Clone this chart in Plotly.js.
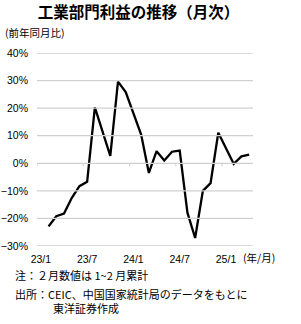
<!DOCTYPE html>
<html>
<head>
<meta charset="utf-8">
<script src="https://cdn.plot.ly/plotly-3.0.1.min.js"></script>
<style>
  html, body { margin: 0; padding: 0; background: #fff; }
  #chart { width: 301px; height: 324px; }
</style>
</head>
<body>
<div id="chart"></div>
<script>
// Categories (year/month); Jan values are not published (Feb = Jan–Feb cumulative)
const months = [
  '23/1','23/2','23/3','23/4','23/5','23/6','23/7','23/8','23/9','23/10','23/11','23/12',
  '24/1','24/2','24/3','24/4','24/5','24/6','24/7','24/8','24/9','24/10','24/11','24/12',
  '25/1','25/2','25/3','25/4'
];
// Industrial profit, YoY %
const profitYoY = [
  null, -22.9, -19.2, -18.2, -12.6, -8.3, -6.7, 20.3, 11.5, 2.7, 29.6, 25.8,
  null, 10.4, -3.5, 4.4, 1.0, 4.2, 4.6, -17.9, -27.1, -10.0, -7.2, 11.1,
  null, -0.2, 2.5, 3.1
];
const tickLabels = ['23/1','23/7','24/1','24/7','25/1'];
const yTicks = [-30, -20, -10, 0, 10, 20, 30, 40];

const numFont = 'Liberation Sans, Arial, Noto Sans CJK JP, sans-serif';
const jpFont = 'Noto Sans CJK JP, sans-serif';
const gridColor = '#d0d0d0';

// horizontal grid lines across the full plot width, one per y tick (on a hidden 0..1 x axis)
const gridX = [], gridY = [];
yTicks.forEach(v => { gridX.push(0, 1, null); gridY.push(v, v, null); });
// short tick marks under the 0% line at the boundary before each labelled month
const nCat = months.length;
const zx = [], zy = [];
tickLabels.forEach(lbl => {
  const f = months.indexOf(lbl) / nCat;
  zx.push(f, f, null); zy.push(0, -1.1, null);
});

const traces = [
  {
    x: gridX, y: gridY, xaxis: 'x2', type: 'scatter', mode: 'lines',
    line: { color: gridColor, width: 1.3 }, hoverinfo: 'skip', showlegend: false
  },
  {
    x: zx, y: zy, xaxis: 'x2', type: 'scatter', mode: 'lines',
    line: { color: gridColor, width: 1 }, hoverinfo: 'skip', showlegend: false
  },
  {
    x: months, y: profitYoY, type: 'scatter', mode: 'lines',
    connectgaps: true,
    line: { color: '#000000', width: 2.3 },
    hoverinfo: 'skip', showlegend: false
  }
];

const layout = {
  width: 301, height: 324,
  margin: { l: 37, r: 48, t: 53, b: 78 },
  paper_bgcolor: '#ffffff', plot_bgcolor: '#ffffff',
  showlegend: false,
  title: {
    text: '<b>工業部門利益の推移（月次）</b>',
    font: { family: jpFont, size: 15.5, color: '#000' },
    x: 0.47, xanchor: 'center', xref: 'paper',
    y: 1 - 13 / 324, yanchor: 'middle', yref: 'container'
  },
  xaxis: {
    type: 'category', categoryorder: 'array', categoryarray: months,
    range: [-0.5, 27.5], fixedrange: true,
    tickmode: 'array', tickvals: tickLabels, ticktext: tickLabels,
    ticks: '', showgrid: false, showline: false, zeroline: false,
    tickfont: { family: numFont, size: 10.5, color: '#000' },
    ticklabelstandoff: 5
  },
  xaxis2: {
    type: 'linear', overlaying: 'x', anchor: 'y', range: [0, 1],
    visible: false, showgrid: false, zeroline: false, fixedrange: true
  },
  yaxis: {
    type: 'linear',
    range: [-30, 40], tickmode: 'linear', tick0: -30, dtick: 10,
    ticksuffix: '%', showticksuffix: 'all', ticks: '',
    showgrid: false, zeroline: false, showline: false,
    tickfont: { family: numFont, size: 10.5, color: '#000' },
    ticklabelstandoff: 8
  },
  annotations: [
    { text: '(前年同月比)', xref: 'paper', yref: 'paper', x: -0.156, y: 1.104,
      xanchor: 'left', yanchor: 'middle', showarrow: false,
      font: { family: jpFont, size: 10.5, color: '#000' } },
    { text: '(年/月)', xref: 'paper', yref: 'paper', x: 0.946, y: -0.062,
      xanchor: 'left', yanchor: 'middle', showarrow: false,
      font: { family: jpFont, size: 10.5, color: '#000' } },
    { text: '注：２月数値は 1~2 月累計', xref: 'paper', yref: 'paper', x: -0.109, y: -0.150,
      xanchor: 'left', yanchor: 'middle', showarrow: false,
      font: { family: jpFont, size: 11, color: '#000' } },
    { text: '出所：CEIC、中国国家統計局のデータをもとに<br>\u3000\u3000\u3000\u00a0\u00a0東洋証券作成',
      xref: 'paper', yref: 'paper', x: -0.109, y: -0.198,
      xanchor: 'left', yanchor: 'top', align: 'left', showarrow: false,
      font: { family: jpFont, size: 11, color: '#000' } }
  ]
};

Plotly.newPlot('chart', traces, layout, { staticPlot: true, displayModeBar: false });
</script>
</body>
</html>
